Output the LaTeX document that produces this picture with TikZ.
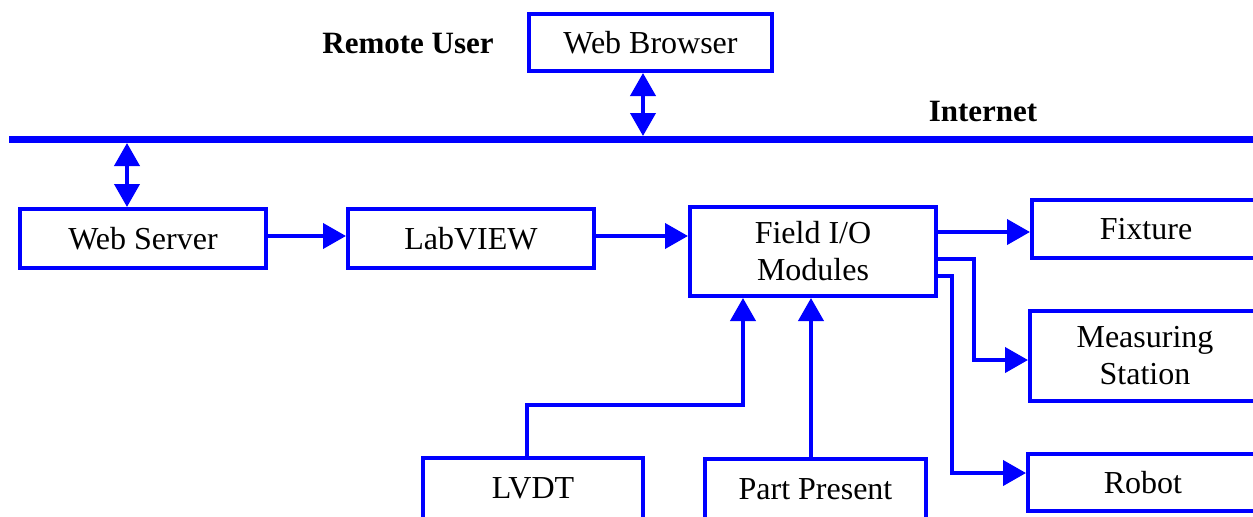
\documentclass[tikz,border=0pt]{standalone}
\usepackage{fontspec}
\setmainfont{Liberation Serif}
\usetikzlibrary{arrows.meta}
\definecolor{lineblue}{RGB}{0,0,255}
\begin{document}
\begin{tikzpicture}[x=0.5pt,y=-0.5pt,
  box/.style={draw=lineblue,line width=2pt,fill=white,inner sep=0pt,align=center,
    font=\fontsize{16}{18.5}\selectfont},
  arr/.style={draw=lineblue,line width=2pt,-{Triangle[length=11.5pt,width=12.5pt]}},
  darr/.style={draw=lineblue,line width=2pt,{Triangle[length=11.5pt,width=12.5pt]}-{Triangle[length=11.5pt,width=12.5pt]}},
  lbl/.style={font=\fontsize{15.5}{18}\selectfont\bfseries}]
\useasboundingbox (0,0) rectangle (1253,516);
\clip (0,0) rectangle (1253,516);
% internet backbone
\coordinate (netL) at (9,139.5);
\coordinate (netR) at (1260,139.5);
\draw[lineblue,line width=3.5pt] (netL) -- (netR);
\node[lbl] (inet) at (983,111) {Internet};
\node[lbl] (ruser) at (408,43) {Remote User};
% boxes
\node[box,minimum width=121.5pt,minimum height=28.5pt] (wb) at (650.5,42.5) {Web Browser};
\node[box,minimum width=123pt,minimum height=29.5pt] (ws) at (143,238.5) {Web Server};
\node[box,minimum width=123pt,minimum height=29.5pt] (lv) at (471,238.5) {LabVIEW};
\node[box,minimum width=123pt,minimum height=44.5pt] (fio) at (813,251.5) {Field I/O\\Modules};
\node[box,minimum width=114pt,minimum height=29pt] (fix) at (1146,229) {Fixture};
\node[box,minimum width=115pt,minimum height=45pt] (ms) at (1145,356) {Measuring\\Station};
\node[box,minimum width=115pt,minimum height=28.5pt] (rob) at (1143,482.5) {Robot};
\node[box,minimum width=110pt,minimum height=31pt] (lvdt) at (533,488.5) {LVDT};
\node[box,minimum width=110.5pt,minimum height=31pt] (pp) at (815.5,489.5) {Part Present};
% connectors to internet
\coordinate (wbnet) at (643,136);
\draw[darr] (wb.south -| wbnet) -- (wbnet);
\coordinate (wsnet) at (127,143);
\draw[darr] (wsnet) -- (wsnet |- ws.north);
% chain
\draw[arr] (ws.east |- 0,236) -- (lv.west |- 0,236);
\draw[arr] (lv.east |- 0,236) -- (fio.west |- 0,236);
% outputs
\coordinate (fixy) at (0,232);
\draw[arr] (fio.east |- fixy) -- (fix.west |- fixy);
\coordinate (msk) at (974,259);
\coordinate (msy) at (0,360);
\draw[arr] (fio.east |- msk) -- (msk) -- (msk |- msy) -- (ms.west |- msy);
\coordinate (robk) at (952,276);
\coordinate (roby) at (0,473);
\draw[arr] (fio.east |- robk) -- (robk) -- (robk |- roby) -- (rob.west |- roby);
% inputs
\coordinate (lvs) at (527,0);
\coordinate (lvk) at (743,405);
\draw[arr] (lvdt.north -| lvs) -- (lvs |- lvk) -- (lvk) -- (lvk |- fio.south);
\coordinate (ppx) at (811,0);
\draw[arr] (pp.north -| ppx) -- (ppx |- fio.south);
\end{tikzpicture}
\end{document}
